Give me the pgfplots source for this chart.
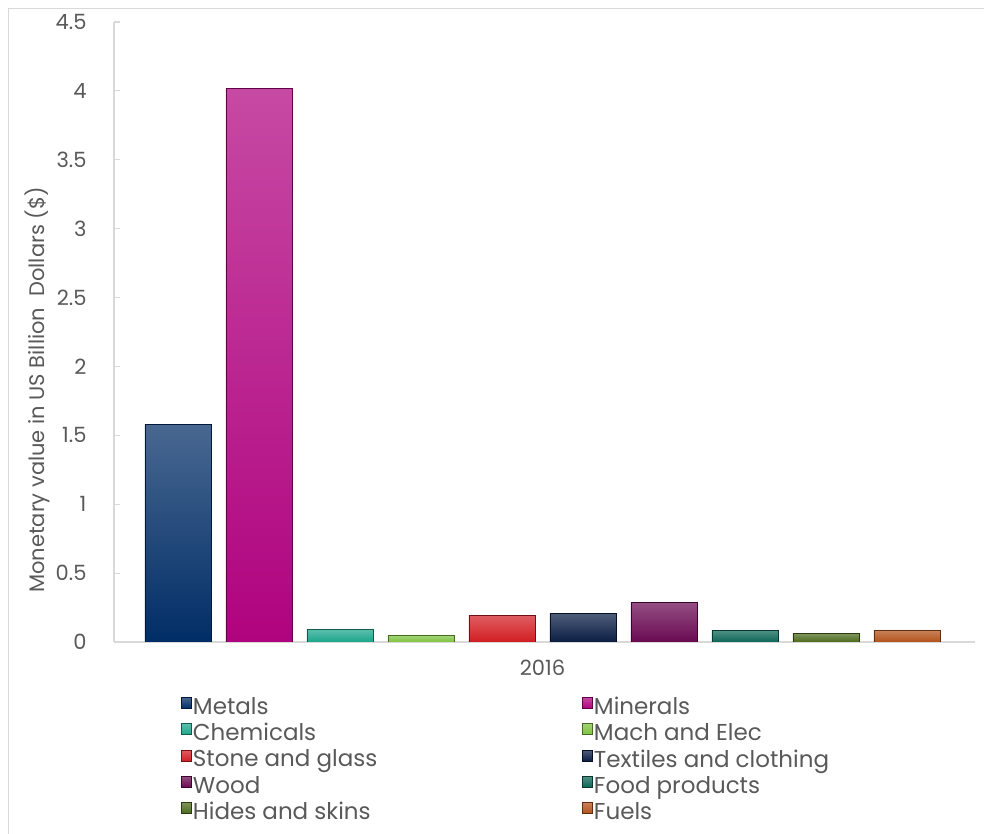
\documentclass[border=0pt]{standalone}
\usepackage{pgfplots}
\pgfplotsset{compat=1.18}
\usepackage{fontspec}
\setmainfont{Poppins}
\definecolor{txt}{HTML}{595959}
\definecolor{axl}{HTML}{D9D9D9}
\definecolor{cMetals}{HTML}{012D66}
\definecolor{cMinerals}{HTML}{B0037F}
\definecolor{cChem}{HTML}{1BA58B}
\definecolor{cMach}{HTML}{7EC23E}
\definecolor{cStone}{HTML}{D21D22}
\definecolor{cTex}{HTML}{0A1E44}
\definecolor{cWood}{HTML}{6A0A52}
\definecolor{cFood}{HTML}{0D6657}
\definecolor{cHides}{HTML}{4C6A1C}
\definecolor{cFuels}{HTML}{B2521A}
\pgfplotsset{
  mybar/.style={ybar, bar width=0.815, bar shift=0pt, top color=#1!72!white, bottom color=#1, draw=#1!55!black, line width=0.8pt},
}
\begin{document}
\begin{tikzpicture}[x=1pt,y=1pt]
\useasboundingbox (0,0) rectangle (984,834);
\draw[color=axl, line width=1pt] (8.5,-2) -- (8.5,825.5) -- (990,825.5);
\node[rotate=90, text=txt, font=\fontsize{21}{25}\selectfont] at (37,444) {Monetary value in US Billion\ \ Dollars (\$)};
\begin{axis}[
  at={(114pt,192pt)}, anchor=south west, scale only axis,
  width=861pt, height=620pt,
  xmin=-0.79, xmax=9.84, ymin=0, ymax=4.5,
  axis x line*=bottom, axis y line*=left,
  axis line style={draw=axl, line width=1.2pt},
  ytick={0,0.5,1,1.5,2,2.5,3,3.5,4,4.5},
  yticklabels={0,0.5,1,1.5,2,2.5,3,3.5,4,4.5},
  xtick={4.5}, xticklabels={2016},
  major x tick style={draw=none},
  major y tick style={draw=axl, line width=1.2pt},
  tick align=inside, major tick length=6pt,
  ticklabel style={text=txt, font=\fontsize{21}{25}\selectfont},
  yticklabel style={xshift=-24pt},
  xticklabel style={yshift=-14pt},
  legend cell align=left,
  legend columns=2,
  legend style={draw=none, fill=none, at={(0.0743,-0.083)}, anchor=north west,
    font=\fontsize{23}{27}\selectfont, text=txt, column sep=0pt, row sep=5pt,
    nodes={inner sep=1.2pt}},
  legend image code/.code={\draw[#1, line width=0.6pt] (0pt,-2pt) rectangle (10pt,9pt);},
]
\addplot[mybar=cMetals] coordinates {(0,1.58)};
\addlegendentry{\makebox[388pt][l]{Metals}}
\addplot[mybar=cMinerals] coordinates {(1,4.02)};
\addlegendentry{Minerals}
\addplot[mybar=cChem] coordinates {(2,0.09)};
\addlegendentry{\makebox[388pt][l]{Chemicals}}
\addplot[mybar=cMach] coordinates {(3,0.045)};
\addlegendentry{Mach and Elec}
\addplot[mybar=cStone] coordinates {(4,0.19)};
\addlegendentry{\makebox[388pt][l]{Stone and glass}}
\addplot[mybar=cTex] coordinates {(5,0.21)};
\addlegendentry{Textiles and clothing}
\addplot[mybar=cWood] coordinates {(6,0.29)};
\addlegendentry{\makebox[388pt][l]{Wood}}
\addplot[mybar=cFood] coordinates {(7,0.085)};
\addlegendentry{Food products}
\addplot[mybar=cHides] coordinates {(8,0.06)};
\addlegendentry{\makebox[388pt][l]{Hides and skins}}
\addplot[mybar=cFuels] coordinates {(9,0.085)};
\addlegendentry{Fuels}
\end{axis}
\end{tikzpicture}
\end{document}
